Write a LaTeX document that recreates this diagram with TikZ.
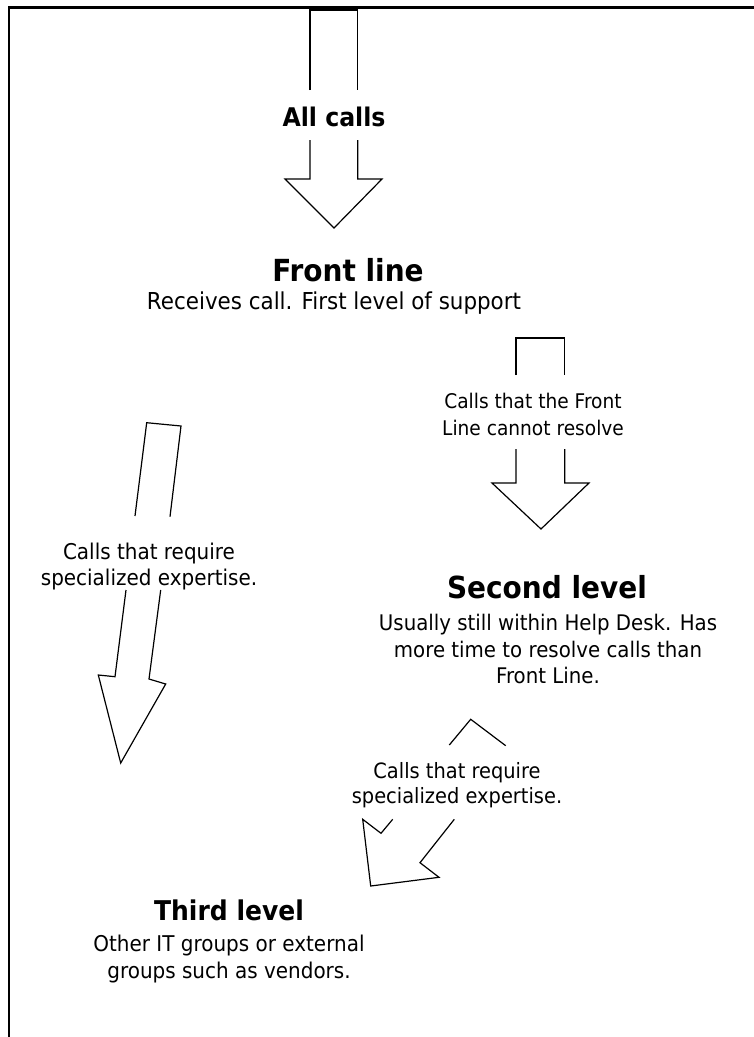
\documentclass[tikz,border=0pt]{standalone}
\usepackage{fontspec}
\setmainfont{DejaVu Sans}[FakeStretch=0.92]
\begin{document}
\begin{tikzpicture}[x=1pt,y=-1pt,
  arr/.style={line width=1.2pt, line join=miter},
  frame/.style={line width=2.5pt},
  ttl/.style={anchor=base, inner sep=0pt, font=\fontsize{30.4}{34}\bfseries\selectfont},
  txt/.style={anchor=base, inner sep=0pt, font=\fontsize{21.7}{26}\selectfont},
]
\useasboundingbox (0,0) rectangle (754,1037);
\draw[frame] (9.2,1037) -- (9.2,7.7) -- (754,7.7);

% arrow 1: all calls
\draw[arr] (310,90) -- (310,10) -- (357.7,10) -- (357.7,90);
\draw[arr] (310,140) -- (310,179) -- (285,179) -- (334,228) -- (382,179) -- (357.7,179) -- (357.7,140);
\node[ttl, font=\fontsize{25.7}{30}\bfseries\selectfont] (allcalls) at (334,126) {All calls};

% front line
\node[ttl] (front) at (348,281) {Front line};
\node[txt, font=\fontsize{23.3}{26}\selectfont] (frontsub) at (334,309) {Receives call. First level of support};

% arrow 2
\draw[arr] (516,375) -- (516,338) -- (564.7,338) -- (564.7,375);
\draw[arr] (516,449) -- (516,483) -- (492,483) -- (541,529) -- (589,483) -- (564.7,483) -- (564.7,449);
\node[txt, font=\fontsize{20.2}{26}\selectfont] (a2l1) at (533,408) {Calls that the Front};
\node[txt, font=\fontsize{20.2}{26}\selectfont] (a2l2) at (533,435) {Line cannot resolve};

% arrow 3 (left, slanted)
\draw[arr] (135,516) -- (146.7,422.7) -- (181,426) -- (170,516.7);
\draw[arr] (126,590) -- (115,676.7) -- (98.3,675) -- (120.7,763) -- (165.7,684) -- (149,679) -- (160.7,590);
\node[txt] (a3l1) at (149,559) {Calls that require};
\node[txt] (a3l2) at (149,585.7) {specialized expertise.};

% second level
\node[ttl] (second) at (547,598) {Second level};
\node[txt, font=\fontsize{21.5}{26}\selectfont] (s1) at (548,630) {Usually still within Help Desk. Has};
\node[txt, font=\fontsize{21.5}{26}\selectfont] (s2) at (548,657) {more time to resolve calls than};
\node[txt, font=\fontsize{21.5}{26}\selectfont] (s3) at (548,683) {Front Line.};

% arrow 4 (diagonal)
\draw[arr] (449.3,745) -- (470.7,719.3) -- (505.7,745.7);
\draw[arr] (392.7,819.3) -- (381,833.3) -- (362.7,819.3) -- (370.7,886) -- (439,877.3) -- (420,862.7) -- (454.3,819.3);
\node[txt, font=\fontsize{21.1}{26}\selectfont] (a4l1) at (457,778) {Calls that require};
\node[txt, font=\fontsize{21.1}{26}\selectfont] (a4l2) at (457,803) {specialized expertise.};

% third level
\node[ttl, font=\fontsize{27.2}{30}\bfseries\selectfont] (third) at (229,920) {Third level};
\node[txt] (t1) at (229,951) {Other IT groups or external};
\node[txt] (t2) at (229,978) {groups such as vendors.};
\end{tikzpicture}
\end{document}
